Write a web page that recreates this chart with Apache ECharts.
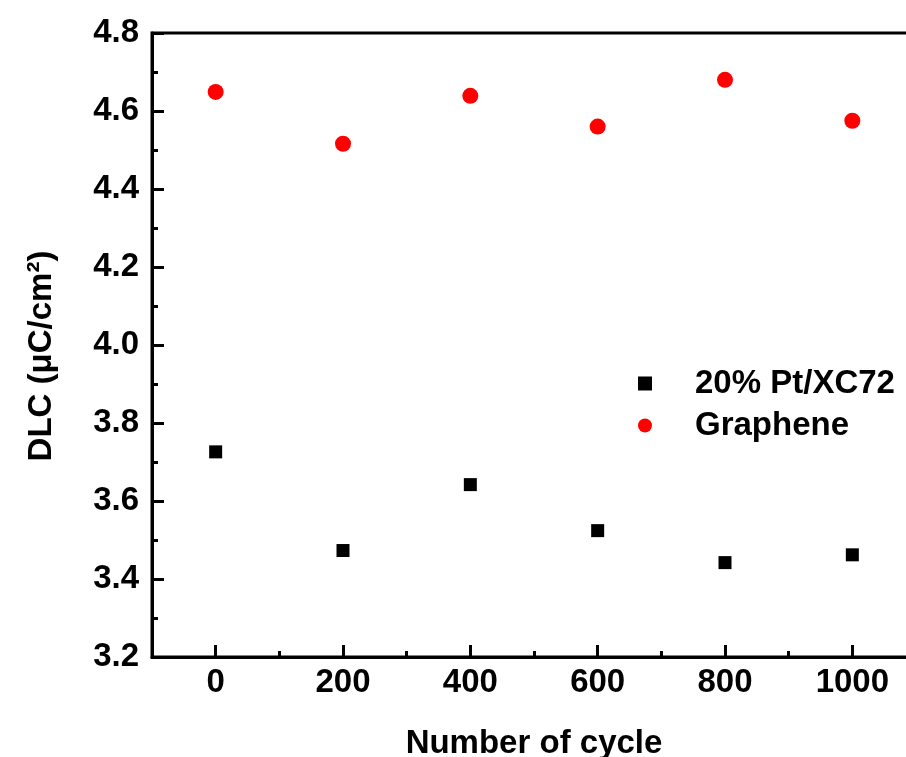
<!DOCTYPE html>
<html>
<head>
<meta charset="utf-8">
<script src="https://cdn.jsdelivr.net/npm/echarts@6/dist/echarts.min.js"></script>
<style>html,body{margin:0;padding:0;background:#fff}#c{width:906px;height:757px}</style>
</head>
<body>
<div id="c"></div>
<script>
var cycles = [0, 200, 400, 600, 800, 1000];
var ptXC72 = [3.726, 3.473, 3.642, 3.524, 3.442, 3.462];
var graphene = [4.649, 4.516, 4.639, 4.560, 4.680, 4.575];
var xMajorTicks = [0, 200, 400, 600, 800, 1000];
var xMinorTicks = [100, 300, 500, 700, 900];
var seriesNames = ['20% Pt/XC72', 'Graphene'];

var FONT = '"Liberation Sans", Arial, sans-serif';
var chart = echarts.init(document.getElementById('c'), null, {renderer: 'canvas'});

function pairs(xs, ys) { return xs.map(function (x, i) { return [x, ys[i]]; }); }

var labelStyle = {color: '#000', fontFamily: FONT, fontWeight: 'bold', fontSize: 33};

chart.setOption({
  animation: false,
  backgroundColor: '#fff',
  grid: {left: 152, right: -10, top: 33, bottom: 100, outerBoundsMode: 'none', containLabel: false,
         show: true, borderColor: '#000', borderWidth: 3},
  legend: {
    orient: 'vertical',
    left: 633,
    top: 362,
    itemWidth: 14,
    itemHeight: 14,
    itemGap: 9,
    data: [
      {name: seriesNames[0], icon: 'rect'},
      {name: seriesNames[1], icon: 'circle'}
    ],
    textStyle: Object.assign({}, labelStyle, {padding: [0, 0, 0, 38]})
  },
  xAxis: [{
    type: 'value',
    min: -100, max: 1100,
    name: 'Number of cycle',
    nameLocation: 'middle',
    nameGap: 70,
    nameTextStyle: labelStyle,
    axisLine: {show: true, onZero: false, lineStyle: {color: '#000', width: 3}},
    axisTick: {show: true, inside: true, length: 12, lineStyle: {color: '#000', width: 3}, customValues: xMajorTicks},
    axisLabel: Object.assign({}, labelStyle, {margin: 9, customValues: xMajorTicks, formatter: function (v) { return String(v); }}),
    splitLine: {show: false}
  }, {
    type: 'value',
    position: 'bottom',
    min: -100, max: 1100,
    axisLine: {show: false, onZero: false},
    axisTick: {show: true, inside: true, length: 6, lineStyle: {color: '#000', width: 3}, customValues: xMinorTicks},
    axisLabel: {show: false},
    splitLine: {show: false}
  }],
  yAxis: {
    type: 'value',
    min: 3.2, max: 4.8, interval: 0.2,
    name: 'DLC (μC/cm²)',
    nameLocation: 'middle',
    nameGap: 94,
    nameTextStyle: Object.assign({}, labelStyle, {padding: [0, 22, 0, 0]}),
    axisLine: {show: true, onZero: false, lineStyle: {color: '#000', width: 3}},
    axisTick: {show: true, inside: true, length: 12, lineStyle: {color: '#000', width: 3}},
    minorTick: {show: true, splitNumber: 2, length: 6, lineStyle: {color: '#000', width: 3}},
    axisLabel: Object.assign({}, labelStyle, {margin: 13, formatter: function (v) { return v.toFixed(1); }}),
    splitLine: {show: false}
  },
  series: [{
    name: seriesNames[0],
    type: 'scatter',
    symbol: 'rect',
    symbolSize: 13,
    itemStyle: {color: '#000', opacity: 1},
    data: pairs(cycles, ptXC72)
  }, {
    name: seriesNames[1],
    type: 'scatter',
    symbol: 'circle',
    symbolSize: 16,
    itemStyle: {color: '#ff0000', opacity: 1},
    data: pairs(cycles, graphene)
  }]
});
</script>
</body>
</html>
